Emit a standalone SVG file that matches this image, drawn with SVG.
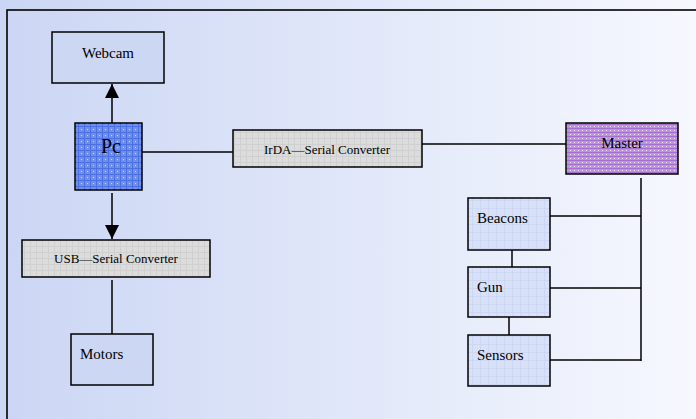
<svg xmlns="http://www.w3.org/2000/svg" width="696" height="419" viewBox="0 0 696 419">
<defs>
<linearGradient id="bg" x1="0" y1="0" x2="1" y2="0">
<stop offset="0" stop-color="#cbd6f4"/>
<stop offset="1" stop-color="#f6f8fe"/>
</linearGradient>
<pattern id="pBlue" width="6" height="6" patternUnits="userSpaceOnUse">
<rect width="6" height="6" fill="#7090e8"/>
<rect x="0" y="0" width="6" height="1" fill="#4a70e4"/>
<rect x="0" y="0" width="1" height="6" fill="#4a70e4"/>
<rect x="3" y="3" width="1" height="1" fill="#c4d2f6"/>
</pattern>
<pattern id="pPurple" width="4" height="4" patternUnits="userSpaceOnUse">
<rect width="4" height="4" fill="#bb94dc"/>
<rect x="0" y="0" width="4" height="1" fill="#a570d0"/>
<rect x="2" y="2" width="1" height="1" fill="#eee2f8"/>
</pattern>
<pattern id="pGray" width="6" height="6" patternUnits="userSpaceOnUse">
<rect width="6" height="6" fill="#dcdcdc"/>
<rect x="0" y="0" width="6" height="1" fill="#d0d0d0"/>
<rect x="0" y="0" width="1" height="6" fill="#d0d0d0"/>
</pattern>
<pattern id="pLight" width="8" height="8" patternUnits="userSpaceOnUse">
<rect width="8" height="8" fill="#d8e1f8"/>
<rect x="0" y="0" width="8" height="1" fill="#ccd7f4"/>
<rect x="0" y="0" width="1" height="8" fill="#ccd7f4"/>
</pattern>
<marker id="arr" viewBox="0 0 14 15" refX="14" refY="7" markerWidth="14" markerHeight="15" markerUnits="userSpaceOnUse" orient="auto">
<path d="M0,0 L14,7 L0,14 Z" fill="#000"/>
</marker>
<style>
.box{stroke:#000;stroke-width:1.5}
.t{font-family:"Liberation Serif","Times New Roman",serif;fill:#000}
.ln{stroke:#000;stroke-width:1.5;fill:none}
</style>
</defs>
<rect x="0" y="0" width="696" height="419" fill="url(#bg)"/>
<rect x="7" y="10" width="700" height="420" fill="none" stroke="#000" stroke-width="1.6"/>

<g id="connectors">
<line class="ln" x1="112" y1="123" x2="112" y2="84" marker-end="url(#arr)"/>
<line class="ln" x1="112" y1="193" x2="112" y2="239" marker-end="url(#arr)"/>
<line class="ln" x1="142" y1="152" x2="233" y2="152"/>
<line class="ln" x1="112" y1="280" x2="112" y2="334"/>
<line class="ln" x1="422" y1="144" x2="566" y2="144"/>
<line class="ln" x1="641" y1="178" x2="641" y2="361"/>
<line class="ln" x1="550" y1="216" x2="641" y2="216"/>
<line class="ln" x1="550" y1="288" x2="641" y2="288"/>
<line class="ln" x1="550" y1="360" x2="641" y2="360"/>
<line class="ln" x1="512" y1="250" x2="512" y2="267"/>
<line class="ln" x1="509" y1="317" x2="509" y2="335"/>
</g>

<g font-family="'Liberation Serif', 'Times New Roman', serif">
<g id="webcam">
<rect class="box" x="52" y="32" width="112" height="51" fill="#ccd7f4"/>
<text class="t" x="108" y="58" font-size="15" text-anchor="middle">Webcam</text>
</g>
<g id="pc">
<rect class="box" x="75" y="123" width="67" height="67" fill="url(#pBlue)"/>
<text class="t" x="111" y="153" font-size="20" text-anchor="middle">Pc</text>
</g>
<g id="usb">
<rect class="box" x="22" y="240" width="188" height="37" fill="url(#pGray)"/>
<text class="t" x="116" y="263" font-size="13" text-anchor="middle">USB—Serial Converter</text>
</g>
<g id="motors">
<rect class="box" x="71" y="334" width="82" height="51" fill="#ccd7f4"/>
<text class="t" x="80" y="359" font-size="15">Motors</text>
</g>
<g id="irda">
<rect class="box" x="233" y="130" width="189" height="37" fill="url(#pGray)"/>
<text class="t" x="327" y="154" font-size="13" text-anchor="middle">IrDA—Serial Converter</text>
</g>
<g id="master">
<rect class="box" x="566" y="123" width="112" height="51" fill="url(#pPurple)"/>
<text class="t" x="622" y="148" font-size="15" text-anchor="middle">Master</text>
</g>
<g id="beacons">
<rect class="box" x="468" y="198" width="82" height="52" fill="url(#pLight)"/>
<text class="t" x="477" y="223" font-size="15">Beacons</text>
</g>
<g id="gun">
<rect class="box" x="468" y="267" width="82" height="50" fill="url(#pLight)"/>
<text class="t" x="477" y="292" font-size="15">Gun</text>
</g>
<g id="sensors">
<rect class="box" x="468" y="335" width="82" height="51" fill="url(#pLight)"/>
<text class="t" x="477" y="360" font-size="15">Sensors</text>
</g>
</g>
</svg>
